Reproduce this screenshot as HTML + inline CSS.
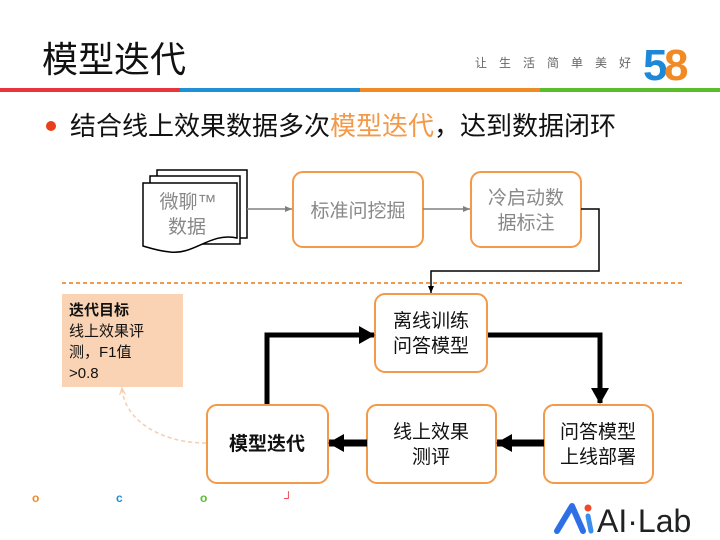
<!DOCTYPE html>
<html><head><meta charset="utf-8"><style>
html,body{margin:0;padding:0;background:#fff;}
svg{display:block;}
text{font-family:"Liberation Sans","Noto Sans CJK SC",sans-serif;}
</style></head><body>
<svg width="720" height="540" viewBox="0 0 720 540" xmlns="http://www.w3.org/2000/svg">
<defs>
<marker id="ag" markerWidth="8" markerHeight="8" refX="7" refY="4" orient="auto" markerUnits="userSpaceOnUse"><path d="M0,1 L7,4 L0,7 z" fill="#808080"/></marker>
<marker id="ak" markerWidth="8" markerHeight="8" refX="7" refY="4" orient="auto" markerUnits="userSpaceOnUse"><path d="M0,1 L7,4 L0,7 z" fill="#000"/></marker>
<marker id="ab" markerWidth="18" markerHeight="18" refX="15" refY="9" orient="auto" markerUnits="userSpaceOnUse"><path d="M0,0 L16,9 L0,18 z" fill="#000"/></marker>
<marker id="al" markerWidth="8" markerHeight="8" refX="6" refY="4" orient="auto" markerUnits="userSpaceOnUse"><path d="M0,1 L7,4 L0,7" fill="none" stroke="#f6cdb0" stroke-width="1.2"/></marker>
</defs>
<text x="42" y="72" font-size="36" fill="#111">模型迭代</text>
<text x="475" y="67" font-size="12" fill="#666" letter-spacing="12">让生活简单美好</text>
<text x="643" y="80" font-size="44" font-weight="bold" fill="#1e88d8">5</text>
<text x="664" y="80" font-size="44" font-weight="bold" fill="#f08a24">8</text>
<rect x="0" y="88" width="180" height="4" fill="#e8353a"/>
<rect x="180" y="88" width="180" height="4" fill="#1f8fd6"/>
<rect x="360" y="88" width="180" height="4" fill="#f08a24"/>
<rect x="540" y="88" width="180" height="4" fill="#5bbd2b"/>
<circle cx="51" cy="126" r="5" fill="#e8401c"/>
<text x="70" y="135" font-size="26" fill="#111">结合线上效果数据多次<tspan fill="#f39a4a">模型迭代</tspan>，达到数据闭环</text>
<rect x="157" y="170" width="90" height="68" fill="#fff" stroke="#000" stroke-width="1.5"/>
<rect x="150" y="176" width="90" height="68" fill="#fff" stroke="#000" stroke-width="1.5"/>
<path d="M143,183 L237,183 L237,238 C210,232 195,255 170,252 C158,251 150,248 143,246 Z" fill="#fff" stroke="#000" stroke-width="1.5"/>
<text x="188" y="208" font-size="19" fill="#888" text-anchor="middle">微聊™</text>
<text x="187" y="233" font-size="19" fill="#888" text-anchor="middle">数据</text>
<g fill="#fff" stroke="#f39a4a" stroke-width="2">
<rect x="293" y="172" width="130" height="75" rx="10"/>
<rect x="471" y="172" width="110" height="75" rx="10"/>
<rect x="375" y="294" width="112" height="78" rx="10"/>
<rect x="207" y="405" width="121" height="78" rx="10"/>
<rect x="367" y="405" width="129" height="78" rx="10"/>
<rect x="544" y="405" width="109" height="78" rx="10"/>
</g>
<text x="358" y="217" font-size="19" fill="#888" text-anchor="middle">标准问挖掘</text>
<text x="526" y="204" font-size="19" fill="#888" text-anchor="middle">冷启动数</text>
<text x="526" y="229" font-size="19" fill="#888" text-anchor="middle">据标注</text>
<text x="431" y="327" font-size="19" fill="#111" text-anchor="middle">离线训练</text>
<text x="431" y="352" font-size="19" fill="#111" text-anchor="middle">问答模型</text>
<text x="267" y="450" font-size="19" font-weight="bold" fill="#111" text-anchor="middle">模型迭代</text>
<text x="431" y="438" font-size="19" fill="#111" text-anchor="middle">线上效果</text>
<text x="431" y="463" font-size="19" fill="#111" text-anchor="middle">测评</text>
<text x="598" y="438" font-size="19" fill="#111" text-anchor="middle">问答模型</text>
<text x="598" y="463" font-size="19" fill="#111" text-anchor="middle">上线部署</text>
<line x1="247" y1="209" x2="292" y2="209" stroke="#808080" stroke-width="1.5" marker-end="url(#ag)"/>
<line x1="423" y1="209" x2="470" y2="209" stroke="#808080" stroke-width="1.5" marker-end="url(#ag)"/>
<path d="M581,209 L599,209 L599,271 L431,271 L431,293" fill="none" stroke="#000" stroke-width="1.5" marker-end="url(#ak)"/>
<line x1="62" y1="283" x2="685" y2="283" stroke="#f39a4a" stroke-width="2" stroke-dasharray="4,3"/>
<rect x="62" y="294" width="121" height="93" fill="#f9d3b4"/>
<text x="69" y="315" font-size="15" font-weight="bold" fill="#111">迭代目标</text>
<text x="69" y="336" font-size="15" fill="#111">线上效果评</text>
<text x="69" y="357" font-size="15" fill="#111">测，F1值</text>
<text x="69" y="378" font-size="15" fill="#111">&gt;0.8</text>
<path d="M267,404 L267,335 L374,335" fill="none" stroke="#000" stroke-width="5" marker-end="url(#ab)"/>
<path d="M488,335 L600,335 L600,403" fill="none" stroke="#000" stroke-width="5" marker-end="url(#ab)"/>
<line x1="544" y1="443" x2="497" y2="443" stroke="#000" stroke-width="7" marker-end="url(#ab)"/>
<line x1="367" y1="443" x2="329" y2="443" stroke="#000" stroke-width="7" marker-end="url(#ab)"/>
<path d="M206,443 C160,443 125,420 122,389" fill="none" stroke="#f6cdb0" stroke-width="1.5" stroke-dasharray="4,3" marker-end="url(#al)"/>
<text x="32" y="502" font-size="12" font-weight="bold" fill="#f08a24">o</text>
<text x="116" y="502" font-size="12" font-weight="bold" fill="#1f8fd6">c</text>
<text x="200" y="502" font-size="12" font-weight="bold" fill="#5bbd2b">o</text>
<text x="284" y="502" font-size="12" font-weight="bold" fill="#e8353a">┘</text>
<path d="M557,531 L572,506 L583,531" fill="none" stroke="#2e6fe8" stroke-width="6" stroke-linecap="round" stroke-linejoin="round"/>
<circle cx="588" cy="508" r="3.5" fill="#f04a2a"/>
<line x1="588" y1="516" x2="591" y2="531" stroke="#3a8ef0" stroke-width="5" stroke-linecap="round"/>
<text x="597" y="532" font-size="32" fill="#222">AI·Lab</text>
</svg>
</body></html>
